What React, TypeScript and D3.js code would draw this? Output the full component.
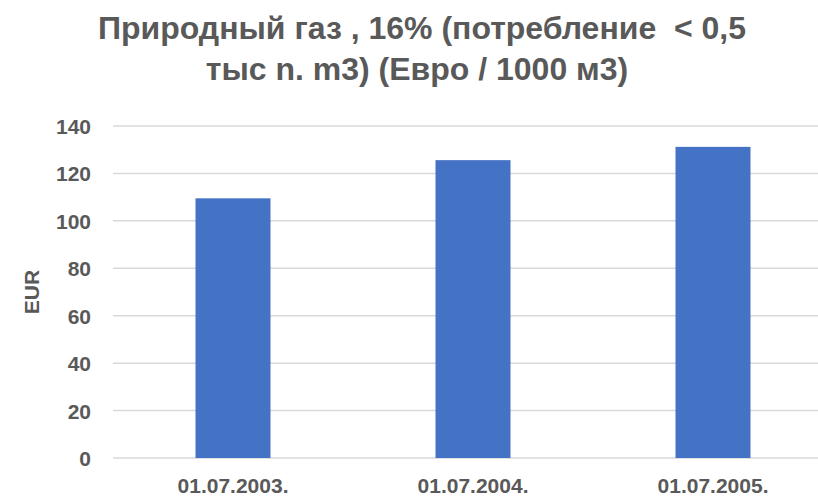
import React, { useEffect, useRef } from "react";
import * as d3 from "d3";

const categories = ["01.07.2003.", "01.07.2004.", "01.07.2005."];
const values = [109.5, 125.6, 131.2];
const yTicks = [0, 20, 40, 60, 80, 100, 120, 140];
const titleLines = ["Природный газ , 16% (потребление  < 0,5", "тыс n. m3) (Евро / 1000 м3)"];

const W = 818;
const H = 497;
const FONT = "'Liberation Sans', Arial, sans-serif";
const TEXT = "#595959";

export default function App() {
  const ref = useRef<SVGSVGElement>(null);

  useEffect(() => {
    const svg = d3.select(ref.current);
    svg.selectAll("*").remove();

    // plot area (right side runs past the window, as in the cropped original)
    const left = 113;
    const right = 833;
    const top = 126;
    const bottom = 458;

    const x = d3.scaleBand().domain(categories).range([left, right]).padding(0);
    const y = d3.scaleLinear().domain([0, 140]).range([bottom, top]);
    const barW = x.bandwidth() * 0.3125;

    svg
      .selectAll(".grid")
      .data(yTicks)
      .enter()
      .append("line")
      .attr("x1", left)
      .attr("x2", W)
      .attr("y1", d => y(d))
      .attr("y2", d => y(d))
      .attr("stroke", "#d9d9d9")
      .attr("stroke-width", 1.5);

    svg
      .selectAll(".bar")
      .data(values)
      .enter()
      .append("rect")
      .attr("x", (d, i) => x(categories[i])! + x.bandwidth() / 2 - barW / 2)
      .attr("y", d => y(d))
      .attr("width", barW)
      .attr("height", d => bottom - y(d))
      .attr("fill", "#4472c4");

    svg
      .selectAll(".ytick")
      .data(yTicks)
      .enter()
      .append("text")
      .attr("x", 91)
      .attr("y", d => y(d) + 8)
      .attr("text-anchor", "end")
      .attr("font-family", FONT)
      .attr("font-weight", "bold")
      .attr("font-size", 21)
      .attr("fill", TEXT)
      .text(d => d);

    svg
      .selectAll(".xtick")
      .data(categories)
      .enter()
      .append("text")
      .attr("x", d => x(d)! + x.bandwidth() / 2)
      .attr("y", 493)
      .attr("text-anchor", "middle")
      .attr("font-family", FONT)
      .attr("font-weight", "bold")
      .attr("font-size", 21)
      .attr("fill", TEXT)
      .text(d => d);

    svg
      .append("text")
      .attr("transform", "translate(39,292) rotate(-90)")
      .attr("text-anchor", "middle")
      .attr("font-family", FONT)
      .attr("font-weight", "bold")
      .attr("font-size", 21)
      .attr("fill", TEXT)
      .text("EUR");

    svg
      .selectAll(".title")
      .data(titleLines)
      .enter()
      .append("text")
      .attr("x", (d, i) => (i === 0 ? 422 : 417))
      .attr("y", (d, i) => 39 + i * 41)
      .attr("text-anchor", "middle")
      .attr("font-family", FONT)
      .attr("font-weight", "bold")
      .attr("font-size", 32)
      .attr("fill", TEXT)
      .style("white-space", "pre")
      .text(d => d);
  }, []);

  return (
    <svg
      ref={ref}
      width={W}
      height={H}
      style={{ position: "absolute", left: 0, top: 0, background: "#fff" }}
    />
  );
}
